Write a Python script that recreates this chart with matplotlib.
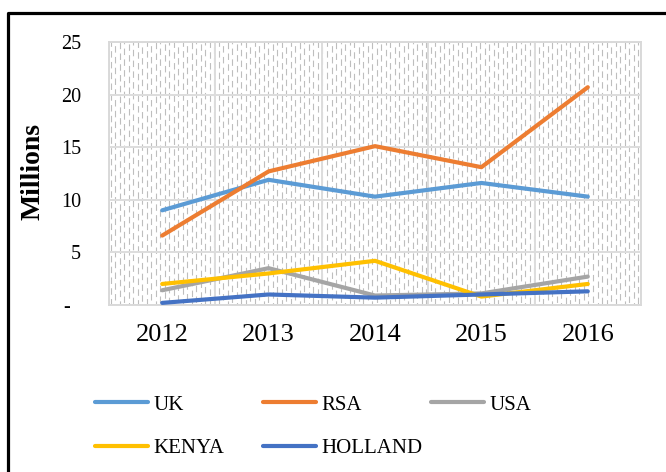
import numpy as np
import matplotlib
matplotlib.use("Agg")
import matplotlib.pyplot as plt
from matplotlib.lines import Line2D

years = [2012, 2013, 2014, 2015, 2016]
uk = [9.0, 11.9, 10.3, 11.6, 10.3]
rsa = [6.6, 12.7, 15.1, 13.1, 20.7]
usa = [1.4, 3.5, 0.9, 1.1, 2.7]
kenya = [2.0, 3.0, 4.2, 0.8, 2.0]
holland = [0.2, 1.0, 0.7, 1.0, 1.3]

series = [("UK", uk, "#5B9BD5"), ("RSA", rsa, "#ED7D31"), ("USA", usa, "#A5A5A5"),
          ("KENYA", kenya, "#FFC000"), ("HOLLAND", holland, "#4472C4")]

yticks = [0, 5, 10, 15, 20, 25]
ylabels = ["-  ", "5", "10", "15", "20", "25"]

plt.rcParams['font.family'] = ['Liberation Serif', 'DejaVu Serif']

fig = plt.figure(figsize=(6.66, 4.72), dpi=100)
ax = fig.add_axes([109/666, 1 - 305/472, 532/666, 263/472])

# dashed vertical texture behind the plot (staggered dash offsets)
xs = np.arange(0.003, 1.0, 1/118)
offs = [0, 5.2, 2.1, 7.4, 3.6, 8.5, 1.0, 6.3]
styles = [(offs[i % len(offs)], (5.8, 3.9)) for i in range(len(xs))]
ax.vlines(xs, 0, 1, transform=ax.transAxes, colors="#BEBEBE", lw=0.8,
          linestyles=styles, zorder=0)

handles = {}
for name, vals, col in series:
    ln, = ax.plot(years, vals, color=col, lw=3, solid_capstyle="round", label=name, zorder=3)
    handles[name] = ln

ax.set_xlim(2011.5, 2016.5)
ax.set_ylim(0, 25)
ax.set_xticks(years)
ax.set_xticks(np.arange(2011.5, 2016.6, 0.5), minor=True)
ax.set_yticks(yticks)
ax.set_yticklabels(ylabels)
ax.grid(axis="x", which="minor", color="#DDDDDD", lw=1.4, zorder=1)
ax.grid(axis="y", which="major", color="#DDDDDD", lw=1.4, zorder=1)
ax.set_axisbelow(True)
for s in ax.spines.values():
    s.set_color("#D9D9D9")
    s.set_linewidth(1.4)
ax.tick_params(axis="both", which="both", length=0)
ax.tick_params(axis="y", labelsize=14.5, pad=20)
ax.tick_params(axis="x", labelsize=19, pad=14)

fig.text(33/666, 1 - 171/472, "Millions", rotation=90, fontsize=20, fontweight="bold",
         ha="center", va="center")

# legend: three columns placed separately, like the reference
cols = [(["UK", "KENYA"], 95), (["RSA", "HOLLAND"], 263), (["USA"], 431)]
for names, x0 in cols:
    fig.legend([handles[n] for n in names], names, loc="upper left",
               bbox_to_anchor=(x0/666, 1 - 395/472), frameon=False, fontsize=15,
               handlelength=2.55, handletextpad=0.25, labelspacing=1.15,
               borderpad=0, borderaxespad=0)

# chart border (only top and left visible in the crop)
fig.add_artist(Line2D([8/666, 8/666, 1.0], [0.0, 1 - 13/472, 1 - 13/472],
                      color="black", lw=2.3, transform=fig.transFigure))

fig.savefig("out.png", dpi=100)
